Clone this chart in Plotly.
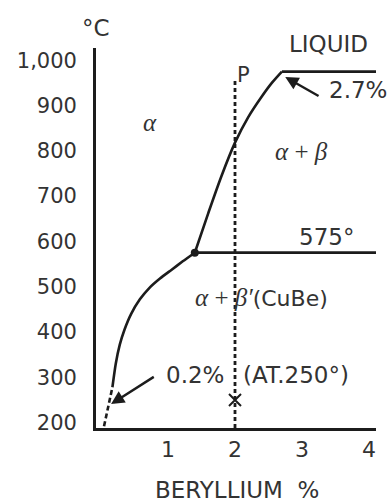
import plotly.graph_objects as go

# Copper-beryllium phase diagram (copper-rich side)
# Solvus of alpha: dashed at low temperature, solid above
solvus_dash_x = [0.045, 0.17]
solvus_dash_t = [192, 278]
solvus_x = [0.17, 0.22, 0.28, 0.35, 0.45, 0.58, 0.72, 0.88, 1.05, 1.22, 1.40]
solvus_t = [278, 330, 372, 405, 440, 472, 497, 518, 537, 556, 575]

# Alpha boundary from the eutectoid point up to the liquid
liquidus_x = [1.40, 1.60, 1.80, 2.00, 2.20, 2.40, 2.55, 2.70]
liquidus_t = [575, 662, 745, 818, 875, 920, 950, 975]

eutectoid_be = 1.40
eutectoid_t = 575
peak_be = 2.7
peak_t = 975
x_end = 4.105

alloy_be = 2.0          # alloy P
alloy_top_t = 955
age_t = 250             # ageing temperature
solvus_label_be = 0.15
solvus_label_t = 241

x_ticks = [1, 2, 3, 4]
x_tick_text = ["1", "2", "3", "4"]
y_ticks = [200, 300, 400, 500, 600, 700, 800, 900, 1000]
y_tick_text = ["200", "300", "400", "500", "600", "700", "800", "900", "1,000"]

INK = "#1c1c1c"
TXT = "#333333"
FONT = "DejaVu Sans"
GREEK = "Liberation Serif"

fig = go.Figure()

fig.add_trace(go.Scatter(x=solvus_dash_x, y=solvus_dash_t, mode="lines",
                         line=dict(color=INK, width=2.6, dash="5px,3px")))
fig.add_trace(go.Scatter(x=solvus_x, y=solvus_t, mode="lines",
                         line=dict(color=INK, width=2.6, shape="spline", smoothing=0.6)))
fig.add_trace(go.Scatter(x=liquidus_x, y=liquidus_t, mode="lines",
                         line=dict(color=INK, width=2.6, shape="spline", smoothing=0.8)))
fig.add_trace(go.Scatter(x=[peak_be, x_end], y=[peak_t, peak_t], mode="lines",
                         line=dict(color=INK, width=2.8)))
fig.add_trace(go.Scatter(x=[eutectoid_be, x_end], y=[eutectoid_t, eutectoid_t], mode="lines",
                         line=dict(color=INK, width=2.8)))
fig.add_trace(go.Scatter(x=[alloy_be, alloy_be], y=[188, alloy_top_t], mode="lines",
                         line=dict(color=INK, width=2.8, dash="4px,3px")))
fig.add_trace(go.Scatter(x=[eutectoid_be], y=[eutectoid_t], mode="markers",
                         marker=dict(color=INK, size=8)))
fig.add_trace(go.Scatter(x=[alloy_be], y=[age_t], mode="markers",
                         marker=dict(color=INK, size=12, symbol="x-thin-open",
                                     line=dict(color=INK, width=2))))

def txt(x, y, s, size=23, family=FONT, **kw):
    fig.add_annotation(x=x, y=y, text=s, showarrow=False,
                       font=dict(family=family, size=size, color=TXT), **kw)

# Labels above the plotting area are placed in paper units vertically
txt(-0.07, 1.0526, "°C", size=23, yref="paper", yanchor="middle")
txt(3.40, 1.0105, "LIQUID", size=23, yref="paper", yanchor="middle")
txt(2.12, 968, "P", size=21)
txt(3.84, 935, "2.7%", size=23)
txt(0.73, 862, "<i>α</i>", size=25, family=GREEK)
txt(2.99, 798, "<i>α</i> + <i>β</i>", size=25, family=GREEK)
txt(3.36, 610, "575°", size=23)
fig.add_annotation(x=2.40, y=477, showarrow=False,
                   text="<span style='font-family:Liberation Serif;font-size:25px'><i>α</i> + <i>β′</i></span>(CuBe)",
                   font=dict(family=FONT, size=22, color=TXT))
txt(1.40, 305, "0.2%", size=23)
txt(2.91, 305, "(AT.250°)", size=23)

# Arrows to the 2.7 % peak and to the 0.2 % solubility point
fig.add_annotation(x=2.75, y=963, ax=3.27, ay=919, axref="x", ayref="y",
                   showarrow=True, arrowhead=2, arrowsize=1.1, arrowwidth=2.4,
                   arrowcolor=INK, text="")
fig.add_annotation(x=solvus_label_be, y=solvus_label_t, ax=0.81, ay=303, axref="x", ayref="y",
                   showarrow=True, arrowhead=2, arrowsize=1.1, arrowwidth=2.4,
                   arrowcolor=INK, text="")

# Axis title
fig.add_annotation(x=2.03, y=0, xref="x", yref="paper", yanchor="middle", yshift=-62,
                   text="BERYLLIUM\u00a0\u00a0%", showarrow=False,
                   font=dict(family=FONT, size=23, color=TXT))

fig.update_xaxes(range=[-0.075, x_end], tickvals=x_ticks, ticktext=x_tick_text,
                 showgrid=False, zeroline=False, showline=True, linecolor=INK, linewidth=2.8,
                 ticks="", ticklen=0, ticklabelstandoff=0,
                 tickfont=dict(family=FONT, size=22, color=TXT))
fig.update_yaxes(range=[188, 1027], tickvals=y_ticks, ticktext=y_tick_text,
                 showgrid=False, zeroline=False, showline=True, linecolor=INK, linewidth=2.8,
                 ticks="", ticklabelstandoff=12,
                 tickfont=dict(family=FONT, size=21, color=TXT))

fig.update_layout(width=390, height=503, margin=dict(l=96, r=14, t=48, b=75),
                  paper_bgcolor="white", plot_bgcolor="white", showlegend=False)

fig.write_html("out.html")
